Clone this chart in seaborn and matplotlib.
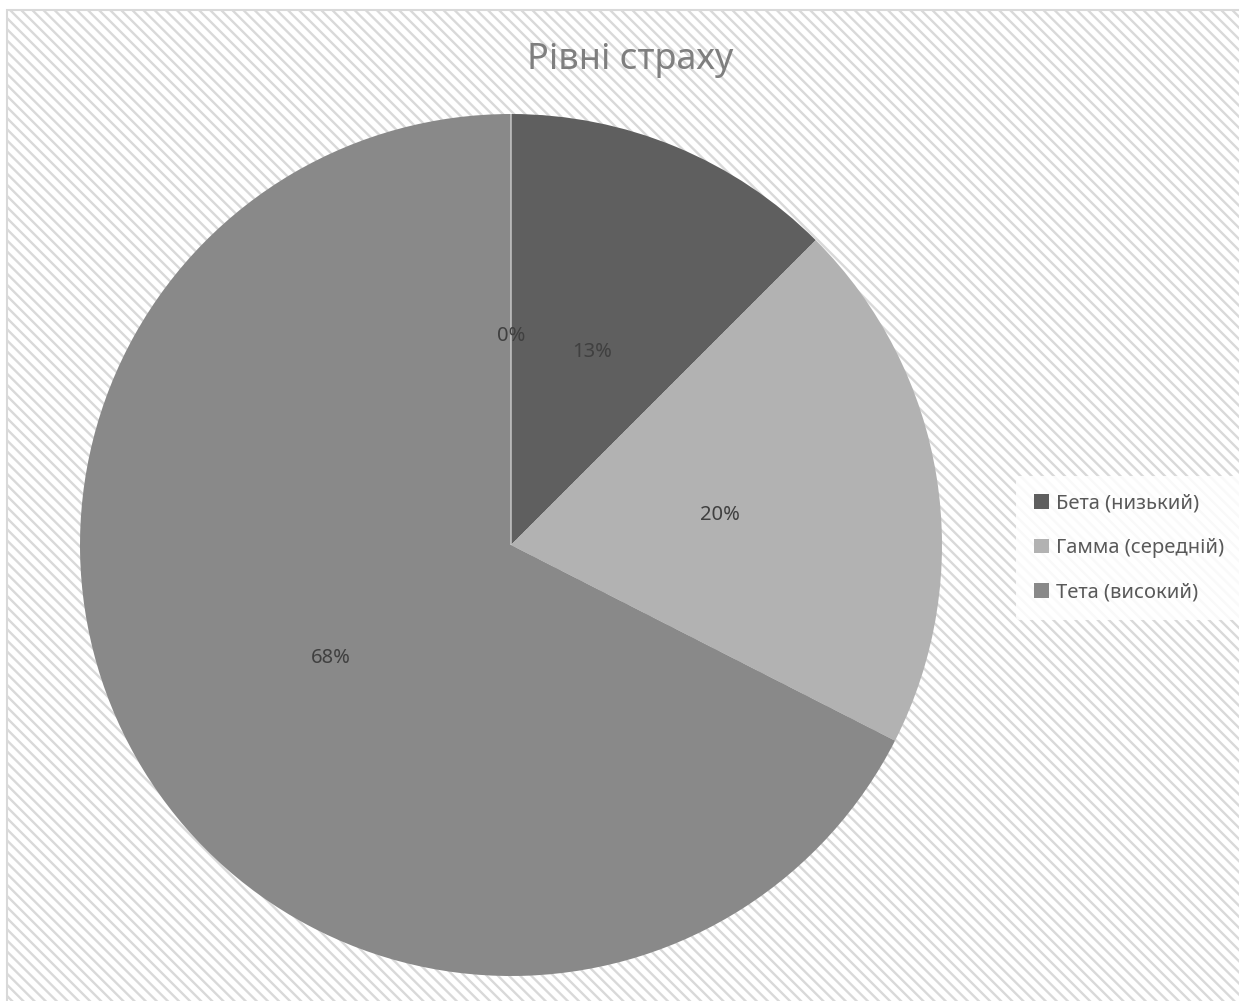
import matplotlib
matplotlib.use("Agg")
import matplotlib.pyplot as plt
import seaborn as sns
import numpy as np
from matplotlib.patches import Rectangle

sns.set_theme(style="white")
plt.rcParams['font.family'] = ['Noto Sans', 'DejaVu Sans']
plt.rcParams['hatch.color'] = '#ebebeb'
plt.rcParams['hatch.linewidth'] = 1.7

# Data
categories = ['Бета (низький)', 'Гамма (середній)', 'Тета (високий)', '']
values = [5, 8, 27, 0]
pct_labels = ['13%', '20%', '68%', '0%']
colors = ['#5f5f5f', '#b2b2b2', '#898989', '#898989']
title = 'Рівні страху'

W, H = 1239, 1001
fig = plt.figure(figsize=(W / 100, H / 100), dpi=100)
fig.patch.set_facecolor('white')

# hatched chart-area background (right/bottom edges run off the image)
bg = Rectangle((7 / W, -0.05), 1.1 - 7 / W, 1.05 - 10 / H, transform=fig.transFigure,
               facecolor='white', edgecolor='#d9d9d9', hatch='\\\\\\', linewidth=1.5,
               zorder=-5)
fig.patches.append(bg)

cx, cy, r = 511, 545, 431
ax = fig.add_axes([(cx - r) / W, (H - cy - r) / H, 2 * r / W, 2 * r / H])
ax.set_facecolor('none')
ax.set_zorder(2)

wedges, _ = ax.pie(values, colors=colors, startangle=90, counterclock=False,
                   radius=1.0, wedgeprops=dict(linewidth=0))
wedges[-1].set_edgecolor('#cfcfcf')
wedges[-1].set_linewidth(1.0)

# percentage labels at half radius
total = sum(values)
start = 90.0
for v, lab in zip(values, pct_labels):
    span = 360.0 * v / total
    mid = np.deg2rad(start - span / 2)
    rr = 0.49
    ax.text(rr * np.cos(mid), rr * np.sin(mid) - 0.006, lab, ha='center', va='center',
            fontsize=14.5, color='#404040')
    start -= span
ax.set_xlim(-1, 1)
ax.set_ylim(-1, 1)
ax.set_aspect('equal')
ax.axis('off')

fig.text(630 / W, 1 - 60 / H, title, ha='center', va='center', fontsize=26,
         color='#7f7f7f', zorder=3)

leg = fig.legend(wedges[:3], categories[:3], loc='center left',
                 bbox_to_anchor=(1016 / W, 1 - 548 / H), frameon=True,
                 fontsize=14.5, labelcolor='#595959', handlelength=0.75,
                 handleheight=0.75, handletextpad=0.35, labelspacing=1.2,
                 borderpad=0.9, borderaxespad=0)
leg.get_frame().set_facecolor('white')
leg.get_frame().set_edgecolor('none')
leg.get_frame().set_alpha(0.85)
leg.set_zorder(3)

fig.savefig('out.png', dpi=100, facecolor='white')
